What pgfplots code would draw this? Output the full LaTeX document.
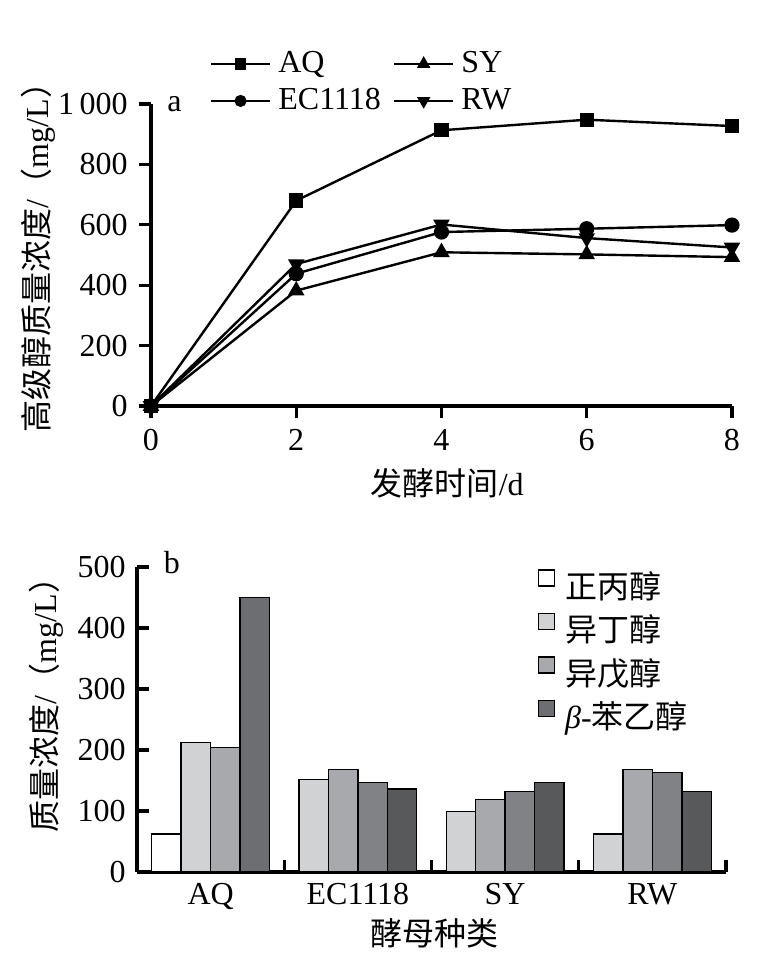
\documentclass[border=0pt]{standalone}
\usepackage{pgfplots}
\pgfplotsset{compat=1.18}
\usepackage{fontspec}
\setmainfont{Liberation Serif}
\newfontfamily\cjk{Noto Sans CJK SC}

\definecolor{barA}{HTML}{D1D2D4}
\definecolor{barB}{HTML}{A7A9AC}
\definecolor{barC}{HTML}{6D6E71}
\definecolor{barD}{HTML}{808285}
\definecolor{barE}{HTML}{58595B}

\pgfplotsset{
  swatch/.style={legend image code/.code={\draw[fill, draw=black, line width=0.35pt] (0pt,0.8pt) rectangle (4pt,4.8pt);}},
  barstyle/.style={ybar, bar width=7.36pt, draw=black, line width=0.35pt, swatch},
}

\begin{document}
\fontsize{8}{9.6}\selectfont
\begin{tikzpicture}
\useasboundingbox (0,0) rectangle (189.25pt,239pt);

% (a) higher alcohols over the fermentation
\begin{axis}[
  at={(37.75pt,137.5pt)}, anchor=south west,
  scale only axis, width=145.25pt, height=75.5pt,
  axis x line*=bottom, axis y line*=left,
  axis line style={line width=0.8pt},
  xmin=0, xmax=8, ymin=0, ymax=1000,
  xtick={0,2,4,6,8}, ytick={0,200,...,1000},
  tick align=outside, major tick length=3pt,
  tick style={line width=0.8pt, black},
  /pgf/number format/assume math mode=true,
  /pgf/number format/1000 sep={\,},
  xlabel={{\cjk 发酵时间}/d},
  ylabel={{\cjk 高级醇质量浓度}/{\cjk （}mg/L{\cjk ）}},
  xlabel style={at={(axis description cs:0.51,-0.255)}, anchor=center},
  ylabel style={at={(axis description cs:-0.1945,0.517)}, anchor=center},
  legend columns=2, legend cell align=left,
  legend style={at={(0.0998,1.185)}, anchor=north west, draw=none, fill=none, inner sep=0pt,
    row sep=1.75pt, nodes={inner sep=0pt, text height=6pt, text depth=1.5pt},
    /tikz/every odd column/.append style={column sep=1.75pt},
    /tikz/every even column/.append style={column sep=3pt}},
  legend image code/.code={\draw[mark repeat=2,mark phase=2, every mark/.append style={scale=0.75}] plot coordinates {(0pt,0pt)(7.4pt,0pt)(14.8pt,0pt)};},
  every axis plot/.append style={black, line width=0.6pt, mark options={solid, fill=black}},
  clip=false,
]
\addplot[mark=square*, mark size=1.5pt] coordinates {(0,0)(2,680)(4,913)(6,948)(8,927)};
\addlegendentry{AQ}
\addplot[mark=triangle*, mark size=1.8pt] coordinates {(0,0)(2,382)(4,509)(6,502)(8,493)};
\addlegendentry{SY}
\addplot[mark=*, mark size=1.6pt] coordinates {(0,0)(2,438)(4,576)(6,587)(8,599)};
\addlegendentry{EC1118}
\addplot[mark=triangle*, mark size=1.8pt, mark options={rotate=180}] coordinates {(0,0)(2,470)(4,601)(6,556)(8,525)};
\addlegendentry{RW}
\node[anchor=west, inner sep=0pt] at ([xshift=3.9pt]rel axis cs:0,1) {a};
\end{axis}

% (b) individual higher alcohols by yeast strain
\begin{axis}[
  at={(34.25pt,21pt)}, anchor=south west,
  scale only axis, width=147.25pt, height=76.25pt,
  axis x line*=bottom, axis y line*=left,
  axis line style={line width=0.8pt},
  xmin=-0.5, xmax=3.5, ymin=0, ymax=500,
  xtick={0.5,1.5,2.5,3.5}, xticklabels={},
  extra x ticks={0,1,2,3}, extra x tick labels={AQ,EC1118,SY,RW},
  extra x tick style={tick style={draw=none}},
  ytick={0,100,...,500},
  tick align=inside, major tick length=3pt,
  tick style={line width=0.8pt, black},
  /pgf/number format/assume math mode=true,
  xlabel={\cjk 酵母种类},
  ylabel={{\cjk 质量浓度}/{\cjk （}mg/L{\cjk ）}},
  xlabel style={at={(axis description cs:0.505,-0.2)}, anchor=center},
  ylabel style={at={(axis description cs:-0.1545,0.574)}, anchor=center},
  legend cell align=left,
  legend style={at={(0.679,0.995)}, anchor=north west, draw=none, fill=none, inner sep=0pt,
    row sep=2.17pt, nodes={inner sep=0pt, text height=6pt, text depth=1.5pt},
    /tikz/every odd column/.append style={column sep=2.5pt}},
  clip=false,
]
% AQ group
\addplot[barstyle, bar shift=-11.04pt, fill=white] coordinates {(0,62)};
\addlegendentry{\cjk 正丙醇}
\addplot[barstyle, bar shift=-3.68pt, fill=barA] coordinates {(0,212)};
\addlegendentry{\cjk 异丁醇}
\addplot[barstyle, bar shift=3.68pt, fill=barB] coordinates {(0,204)};
\addlegendentry{\cjk 异戊醇}
\addplot[barstyle, bar shift=11.04pt, fill=barC] coordinates {(0,450)};
\addlegendentry{{\itshape β}-{\cjk 苯乙醇}}
% EC1118, SY, RW
\addplot[barstyle, forget plot, bar shift=-11.04pt, fill=barA] coordinates {(1,152)(2,99)(3,62)};
\addplot[barstyle, forget plot, bar shift=-3.68pt, fill=barB] coordinates {(1,168)(2,119)(3,168)};
\addplot[barstyle, forget plot, bar shift=3.68pt, fill=barD] coordinates {(1,147)(2,132)(3,163)};
\addplot[barstyle, forget plot, bar shift=11.04pt, fill=barE] coordinates {(1,136)(2,147)(3,132)};
\node[anchor=west, inner sep=0pt] at ([xshift=6.5pt, yshift=1.1pt]rel axis cs:0,1) {b};
\end{axis}
\end{tikzpicture}
\end{document}
